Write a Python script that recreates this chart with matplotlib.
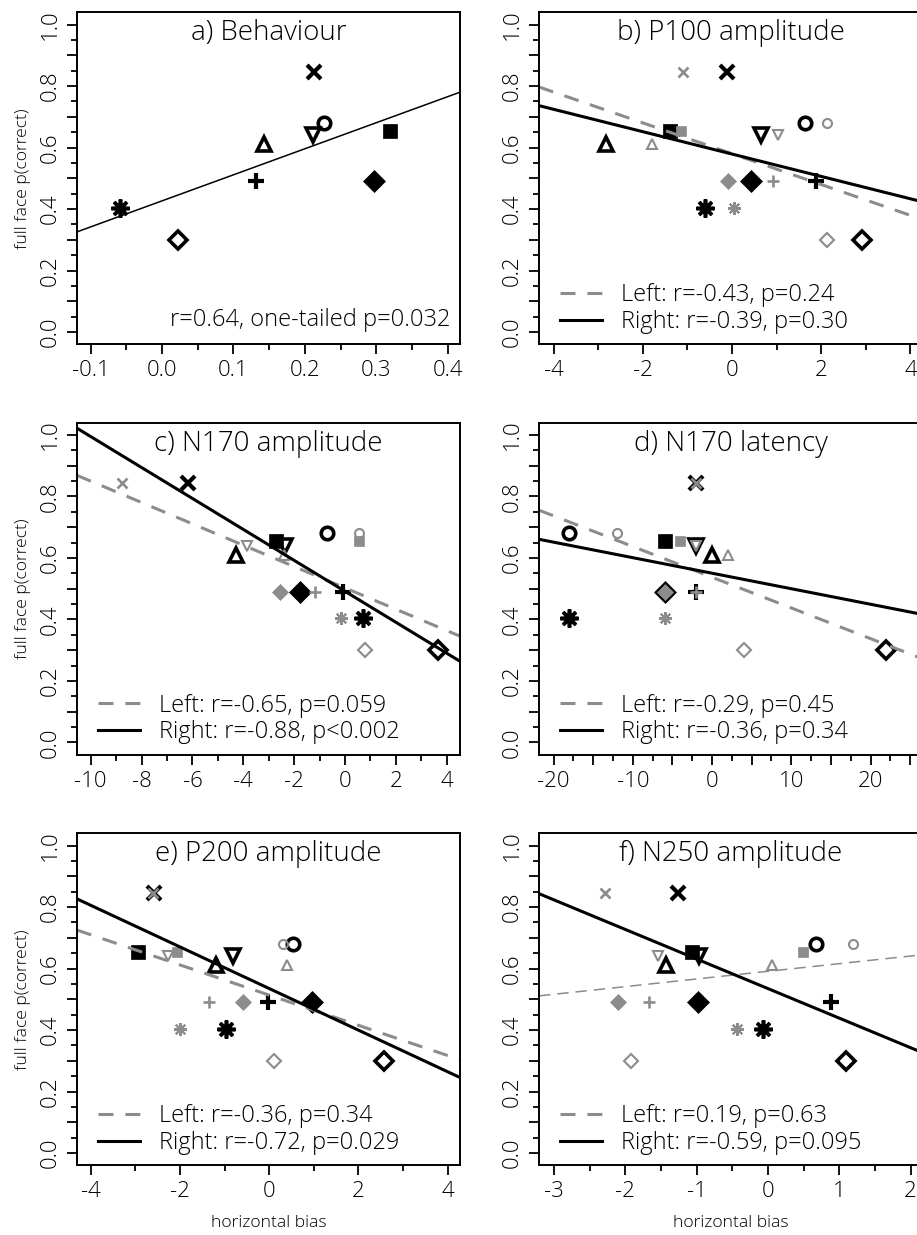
import numpy as np
import matplotlib
matplotlib.use('Agg')
import matplotlib.pyplot as plt
from matplotlib.ticker import MultipleLocator, FuncFormatter
from matplotlib.lines import Line2D

plt.rcParams['font.family'] = ['Open Sans', 'DejaVu Sans']
plt.rcParams['font.weight'] = 'light'
plt.rcParams['axes.labelweight'] = 'light'
plt.rcParams['axes.unicode_minus'] = False

# ---------------- data ----------------
markers = ['asterisk', 'odiamond', 'plus', 'tri_up', 'tri_down',
           'circle', 'x', 'fdiamond', 'fsquare']
pcorrect = [0.405, 0.30, 0.49, 0.61, 0.64, 0.68, 0.845, 0.49, 0.655]

behaviour_x = [-0.059, 0.023, 0.132, 0.1425, 0.211, 0.226, 0.213, 0.297, 0.319]

p100_right = [-0.60, 2.92, 1.89, -2.82, 0.66, 1.63, -0.105, 0.43, -1.40]
p100_left = [0.045, 2.12, 0.92, -1.79, 1.02, 2.12, -1.10, -0.10, -1.15]
n170amp_right = [0.72, 3.64, -0.07, -4.30, -2.36, -0.72, -6.18, -1.77, -2.71]
n170amp_left = [-0.17, 0.79, -1.18, -2.40, -3.86, 0.55, -8.77, -2.55, 0.55]
n170lat_right = [-18, 22, -2, 0, -2, -18, -2, -6, -6]
n170lat_left = [-6, 4, -2, 2, -2, -12, -2, -6, -4]
p200_right = [-0.96, 2.58, -0.02, -1.19, -0.82, 0.545, -2.59, 0.97, -2.94]
p200_left = [-2.00, 0.11, -1.35, 0.40, -2.26, 0.32, -2.60, -0.58, -2.07]
n250_right = [-0.07, 1.09, 0.88, -1.43, -0.97, 0.67, -1.26, -0.98, -1.06]
n250_left = [-0.44, -1.92, -1.67, 0.06, -1.54, 1.19, -2.28, -2.10, 0.49]

titles = ['a) Behaviour', 'b) P100 amplitude', 'c) N170 amplitude',
          'd) N170 latency', 'e) P200 amplitude', 'f) N250 amplitude']
left_labels = [None,
               'Left: r=-0.43, p=0.24', 'Left: r=-0.65, p=0.059',
               'Left: r=-0.29, p=0.45', 'Left: r=-0.36, p=0.34',
               'Left: r=0.19, p=0.63']
right_labels = [None,
                'Right: r=-0.39, p=0.30', 'Right: r=-0.88, p<0.002',
                'Right: r=-0.36, p=0.34', 'Right: r=-0.72, p=0.029',
                'Right: r=-0.59, p=0.095']
behaviour_note = 'r=0.64, one-tailed p=0.032'

xlims = [(-0.119, 0.417), (-4.33, 4.26), (-10.54, 4.52),
         (-21.85, 26.5), (-4.31, 4.28), (-3.21, 2.16)]
xmajor = [0.1, 2, 2, 5, 2, 1]
xminor = [0.05, 1, 1, 2.5, 1, 0.5]
xlabel_every = [0.1, 2, 2, 10, 2, 1]

# ---------------- layout ----------------
W, H = 917, 1235
fig = plt.figure(figsize=(W / 100, H / 100), dpi=100)

col_left = [77, 539]
ax_w = 383
row_top = [12.3, 422.7, 833.3]
ax_h = 332

GRAY = '#8c8c8c'
FS_TITLE = 20
FS_TICK = 16
FS_LEG = 17
FS_LAB = 12.6


def mstyle(kind, color, big):
    s = 1.0 if big else 0.72
    lw = 2.6 if big else 1.5
    base = dict(linestyle='none', color=color, markeredgecolor=color)
    if kind == 'asterisk':
        base.update(marker=(8, 2, 0), ms=13 * s, mew=lw)
    elif kind == 'odiamond':
        base.update(marker='D', ms=9.5 * s, mew=lw, mfc='none')
    elif kind == 'plus':
        base.update(marker='+', ms=12 * s, mew=lw + 0.4)
    elif kind == 'tri_up':
        base.update(marker='^', ms=10.5 * s, mew=lw, mfc='none')
    elif kind == 'tri_down':
        base.update(marker='v', ms=10.5 * s, mew=lw, mfc='none')
    elif kind == 'circle':
        base.update(marker='o', ms=9 * s, mew=lw, mfc='none')
    elif kind == 'x':
        base.update(marker='x', ms=9.5 * s, mew=lw + 0.4)
    elif kind == 'fdiamond':
        base.update(marker='D', ms=11.5 * s, mew=0.5, mfc=color)
    elif kind == 'fsquare':
        base.update(marker='s', ms=10.5 * s, mew=0.5, mfc=color)
    return base


def draw_points(ax, xs, color, big):
    for xi, yi, k in zip(xs, pcorrect, markers):
        ax.plot([xi], [yi], **mstyle(k, color, big))


def fit_line(ax, xs, **kw):
    slope, icpt = np.polyfit(xs, pcorrect, 1)
    ax.axline((0, icpt), slope=slope, **kw)


def fmt_factory(every):
    def f(v, pos):
        q = v / every
        if abs(q - round(q)) > 1e-6:
            return ''
        if every < 1:
            s = '%.1f' % v
            if s == '-0.0':
                s = '0.0'
            return s
        return '%d' % round(v)
    return f


def style_axes(ax, i):
    ax.set_ylim(-0.04, 1.04)
    ax.set_xlim(*xlims[i])
    for sp in ax.spines.values():
        sp.set_linewidth(1.4)
    ax.yaxis.set_major_locator(MultipleLocator(0.1))
    ax.yaxis.set_minor_locator(MultipleLocator(0.05))
    ax.yaxis.set_major_formatter(FuncFormatter(fmt_factory(0.2)))
    ax.xaxis.set_major_locator(MultipleLocator(xmajor[i]))
    ax.xaxis.set_minor_locator(MultipleLocator(xminor[i]))
    ax.xaxis.set_major_formatter(FuncFormatter(fmt_factory(xlabel_every[i])))
    ax.tick_params(which='major', length=7, width=1.3, labelsize=FS_TICK, pad=4.5)
    ax.tick_params(which='minor', length=4, width=1.3)
    ax.tick_params(axis='y', labelrotation=90)
    for lab in ax.yaxis.get_majorticklabels():
        lab.set_verticalalignment('center')
    ax.text(0.5, 0.937, titles[i], transform=ax.transAxes, ha='center',
            va='center', fontsize=FS_TITLE)


axes = []
for r in range(3):
    for c in range(2):
        l = col_left[c]
        t = row_top[r]
        ax = fig.add_axes([l / W, 1 - (t + ax_h) / H, ax_w / W, ax_h / H])
        axes.append(ax)

datasets = [None, (p100_left, p100_right), (n170amp_left, n170amp_right),
            (n170lat_left, n170lat_right), (p200_left, p200_right),
            (n250_left, n250_right)]

for i, ax in enumerate(axes):
    style_axes(ax, i)
    if i == 0:
        draw_points(ax, behaviour_x, 'black', True)
        fit_line(ax, behaviour_x, color='black', lw=1.1)
        ax.text(0.974, 0.072, behaviour_note, transform=ax.transAxes,
                ha='right', va='center', fontsize=FS_LEG)
    else:
        lx, rx = datasets[i]
        draw_points(ax, rx, 'black', True)
        draw_points(ax, lx, GRAY, False)
        if i == 5:
            fit_line(ax, lx, color=GRAY, lw=1.1, dashes=(7.5, 4.5))
        else:
            fit_line(ax, lx, color=GRAY, lw=2.2, dashes=(4.9, 3.9))
        fit_line(ax, rx, color='black', lw=2.2)
        handles = [Line2D([], [], color=GRAY, lw=2.2, dashes=(4.9, 3.9)),
                   Line2D([], [], color='black', lw=2.2)]
        ax.legend(handles, [left_labels[i], right_labels[i]], loc='lower left',
                  bbox_to_anchor=(0.054, 0.031), frameon=False, fontsize=FS_LEG,
                  handlelength=1.8, handletextpad=0.8, labelspacing=0.12,
                  borderpad=0, borderaxespad=0)
    if i % 2 == 0:
        ax.set_ylabel('full face p(correct)', fontsize=FS_LAB)
        ax.yaxis.set_label_coords(-0.12, 0.5)
    if i >= 4:
        ax.set_xlabel('horizontal bias', fontsize=FS_LAB)
        ax.xaxis.set_label_coords(0.5, -0.15)

fig.savefig('out.png', dpi=100)
